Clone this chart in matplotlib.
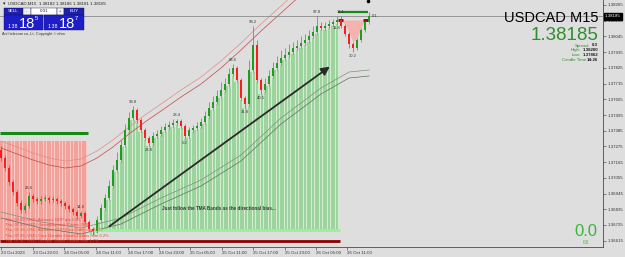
import numpy as np
import matplotlib
matplotlib.use("Agg")
import matplotlib.pyplot as plt
from matplotlib.patches import Rectangle

plt.rcParams['font.family'] = ['Liberation Sans', 'DejaVu Sans']

# ---- USDCAD M15 candles (open of each candle = previous close) ----
first_open = 1.37250
closes = [1.37194, 1.37124, 1.37026, 1.36956, 1.36879, 1.36830, 1.36858, 1.36928, 1.36907, 1.36893,
          1.36907, 1.36914, 1.36900, 1.36907, 1.36893, 1.36879, 1.36858, 1.36837, 1.36816, 1.36788,
          1.36809, 1.36746, 1.36697, 1.36683, 1.36760, 1.36844, 1.36914, 1.36998, 1.37110, 1.37180,
          1.37285, 1.37390, 1.37474, 1.37530, 1.37460, 1.37390, 1.37334, 1.37299, 1.37348, 1.37362,
          1.37390, 1.37411, 1.37425, 1.37439, 1.37453, 1.37418, 1.37348, 1.37390, 1.37404, 1.37418,
          1.37446, 1.37488, 1.37544, 1.37586, 1.37628, 1.37670, 1.37712, 1.37782, 1.37824, 1.37740,
          1.37614, 1.37572, 1.37810, 1.37985, 1.37740, 1.37670, 1.37712, 1.37768, 1.37824, 1.37859,
          1.37894, 1.37915, 1.37936, 1.37964, 1.37978, 1.37999, 1.38020, 1.38048, 1.38076, 1.38118,
          1.38104, 1.38118, 1.38132, 1.38146, 1.38160, 1.38118, 1.38062, 1.37992, 1.37964, 1.38020,
          1.38090, 1.38146, 1.38185]
highs = [1.37278, 1.37215, 1.37145, 1.37040, 1.36970, 1.36900, 1.36879, 1.36956, 1.36942, 1.36921,
         1.36928, 1.36935, 1.36928, 1.36928, 1.36921, 1.36907, 1.36893, 1.36872, 1.36851, 1.36830,
         1.36823, 1.36823, 1.36760, 1.36711, 1.36788, 1.36872, 1.36942, 1.37040, 1.37145, 1.37236,
         1.37320, 1.37432, 1.37516, 1.37558, 1.37544, 1.37474, 1.37404, 1.37348, 1.37376, 1.37390,
         1.37418, 1.37439, 1.37453, 1.37467, 1.37467, 1.37467, 1.37432, 1.37411, 1.37425, 1.37446,
         1.37474, 1.37523, 1.37586, 1.37628, 1.37670, 1.37726, 1.37754, 1.37824, 1.37852, 1.37838,
         1.37754, 1.37628, 1.37880, 1.38118, 1.38020, 1.37754, 1.37754, 1.37810, 1.37866, 1.37908,
         1.37950, 1.37964, 1.37992, 1.38006, 1.38020, 1.38048, 1.38062, 1.38090, 1.38118, 1.38188,
         1.38146, 1.38146, 1.38160, 1.38167, 1.38188, 1.38188, 1.38132, 1.38076, 1.38006, 1.38034,
         1.38104, 1.38160, 1.38216]
lows = [1.37173, 1.37103, 1.37005, 1.36935, 1.36858, 1.36809, 1.36809, 1.36844, 1.36886, 1.36872,
        1.36872, 1.36893, 1.36879, 1.36886, 1.36872, 1.36858, 1.36837, 1.36816, 1.36795, 1.36767,
        1.36774, 1.36732, 1.36683, 1.36655, 1.36669, 1.36746, 1.36830, 1.36900, 1.36984, 1.37096,
        1.37166, 1.37271, 1.37376, 1.37460, 1.37439, 1.37376, 1.37320, 1.37278, 1.37285, 1.37334,
        1.37348, 1.37376, 1.37397, 1.37411, 1.37425, 1.37404, 1.37327, 1.37334, 1.37376, 1.37390,
        1.37404, 1.37432, 1.37474, 1.37530, 1.37572, 1.37614, 1.37656, 1.37698, 1.37768, 1.37726,
        1.37600, 1.37544, 1.37558, 1.37796, 1.37726, 1.37642, 1.37656, 1.37698, 1.37754, 1.37810,
        1.37845, 1.37880, 1.37901, 1.37922, 1.37950, 1.37964, 1.37985, 1.38006, 1.38034, 1.38062,
        1.38090, 1.38090, 1.38104, 1.38118, 1.38132, 1.38104, 1.38048, 1.37964, 1.37936, 1.37950,
        1.38006, 1.38076, 1.38132]

# TMA bands
upper_x = [0, 4, 8, 12, 16, 20, 24, 28, 32, 36, 40, 45, 50, 55, 60, 65, 70, 75]
upper_in = [1.37264, 1.37222, 1.37180, 1.37145, 1.37124, 1.37138, 1.37194, 1.37271, 1.37362,
            1.37446, 1.37523, 1.37621, 1.37712, 1.37824, 1.37950, 1.38083, 1.38209, 1.38335]
upper_out = [1.37313, 1.37271, 1.37229, 1.37194, 1.37173, 1.37187, 1.37243, 1.37320, 1.37411,
             1.37495, 1.37572, 1.37670, 1.37761, 1.37873, 1.37999, 1.38132, 1.38258, 1.38384]
lower_x = [0, 10, 20, 30, 40, 50, 60, 70, 80, 87, 92]
lower_in = [1.36816, 1.36746, 1.36704, 1.36774, 1.36914, 1.37040, 1.37215, 1.37474, 1.37684, 1.37796, 1.37810]
lower_out = [1.36774, 1.36704, 1.36662, 1.36732, 1.36872, 1.36998, 1.37173, 1.37432, 1.37642, 1.37754, 1.37768]

# indicator levels
sell_zone_top = 1.37313
sell_zone_line = 1.37369
hist_base = 1.36676
green_base_line = 1.36690
red_base_line = 1.36613
v_top = 1.38160
v_line = 1.38216

tag_bars = [7, 20, 33, 37, 44, 46, 58, 61, 63, 65, 79, 84, 85, 88]
tag_sides = ['h', 'h', 'h', 'l', 'h', 'l', 'h', 'l', 'h', 'l', 'h', 'l', 'h', 'l']
tag_texts = ['23.6', '14.6', '93.8', '28.8', '28.4', '5.2', '63.6', '31.8', '98.2', '40.5', '97.8', '11.8', '18.1', '30.2']

arrow_from = (26.5, 1.36704)
arrow_to = (82.75, 1.37845)

ytick_vals = [1.36615, 1.36725, 1.36835, 1.36945, 1.37055, 1.37165, 1.37275, 1.37385,
              1.37495, 1.37605, 1.37715, 1.37825, 1.37935, 1.38045, 1.38155, 1.38265]
xtick_pos = [0, 8, 15.75, 23.75, 31.75, 39.5, 47.25, 55.25, 63, 71, 78.75, 86.5]
xtick_labels = ['23 Oct 2023', '23 Oct 22:00', '24 Oct 05:00', '24 Oct 11:00', '24 Oct 17:00',
                '24 Oct 23:00', '25 Oct 05:00', '25 Oct 11:00', '25 Oct 17:00', '25 Oct 23:00',
                '26 Oct 05:00', '26 Oct 11:00']

news = ['Thu, 07:30, USD, Advance GDP q/q 4.3%',
        'Thu, 07:30, USD, Unemployment Claims 209K',
        'Thu, 07:30, USD, Advance GDP Price Index q/q 2.5%',
        'Thu, 07:30, USD, Core Durable Goods Orders m/m 0.2%',
        'Thu, 07:30, USD, Durable Goods Orders m/m 1.7%']

BG = '#dedede'
GREEN = '#1f9d1f'
RED = '#ff1c1c'

fig = plt.figure(figsize=(6.25, 2.57), dpi=100, facecolor=BG)
ax = fig.add_axes([0, 10 / 257, 603 / 625, 247 / 257], facecolor=BG)
ax.set_xlim(-0.25, 150.5)
ax.set_ylim(1.36571, 1.38300)

x = np.arange(len(closes))
o = np.array([first_open] + closes[:-1])
c = np.array(closes)
h = np.array(highs)
l = np.array(lows)

# pink histogram (left) and green histogram under the price
ax.bar(x[:22], sell_zone_top - red_base_line, bottom=red_base_line, width=1.0, color='#f7cbc6', zorder=1)
px = np.arange(-0.3, 21.6, 0.667)
ax.vlines(px, red_base_line, sell_zone_top, color='#f29a93', lw=1.2, zorder=1)
g = np.arange(23, 85)
ax.bar(g, l[g] - hist_base, bottom=hist_base, width=1.0, color='#d3ecd3', zorder=1)
gx = np.arange(22.6, 84.5, 0.667)
gi = np.clip(np.round(gx).astype(int), 23, 84)
ax.vlines(gx, hist_base, l[gi], color='#93cf93', lw=1.2, zorder=1)
v = np.arange(84, 93)
ax.fill_between(v, np.minimum(h[v], v_top), v_top, color='#f5b3ad', lw=0, zorder=1)

# bands
ax.plot(upper_x, upper_out, color='#e08a8a', lw=0.5, zorder=2)
ax.plot(upper_x, upper_in, color='#c04848', lw=0.5, zorder=2)
ax.plot(lower_x, lower_in, color='#7d8f7d', lw=0.5, zorder=2)
ax.plot(lower_x, lower_out, color='#5f705f', lw=0.5, zorder=2)

# level lines
ax.hlines(sell_zone_line, -0.25, 21.75, color='#168a16', lw=2.2, zorder=3)
ax.hlines(green_base_line, 22.75, 84.75, color='#9cf09c', lw=2.2, zorder=3)
ax.hlines(red_base_line, -0.25, 84.75, color='#8b0000', lw=2.0, zorder=3)
ax.hlines(v_line, 84.25, 91.75, color='#168a16', lw=1.6, zorder=3)
ax.hlines(v_top, 84.3, 85.5, color='#8b0000', lw=2.0, zorder=3)
ax.hlines(v_top, 90.5, 91.75, color='#8b0000', lw=2.0, zorder=3)

# candles
col = np.where(c >= o, GREEN, RED)
ax.vlines(x, l, h, colors=col, lw=0.45, zorder=4)
body = np.maximum(np.abs(c - o), 0.00003)
ax.bar(x, body, bottom=np.minimum(o, c), width=0.42, color=col, zorder=4)

# price line + box
ax.axhline(closes[-1], color='#7a7a7a', lw=0.5, zorder=3)
ax.annotate(f'{closes[-1]:.5f}', xy=(1.0, closes[-1]), xycoords=('axes fraction', 'data'),
            xytext=(1.5, 0), textcoords='offset points', ha='left', va='center',
            fontsize=3.2, color='white', annotation_clip=False,
            bbox=dict(boxstyle='square,pad=0.25', fc='black', ec='black'))

# tags
for b, s, t in zip(tag_bars, tag_sides, tag_texts):
    if s == 'h':
        ax.annotate(t, (b, h[b]), xytext=(0, 1.2), textcoords='offset points',
                    ha='center', va='bottom', fontsize=3.0, color='#333333', zorder=6)
    else:
        ax.annotate(t, (b, l[b]), xytext=(0, -1.2), textcoords='offset points',
                    ha='center', va='top', fontsize=3.0, color='#333333', zorder=6)
ax.annotate('0.1', (x[-1], c[-1]), xytext=(2, 0), textcoords='offset points',
            ha='left', va='center', fontsize=3.0, color='#333333', zorder=6)
ax.scatter([x[-1] - 0.3], [1.38290], s=2.5, color='black', zorder=6)

# trend arrow
ax.annotate('', xy=arrow_to, xytext=arrow_from,
            arrowprops=dict(arrowstyle='-|>,head_length=0.5,head_width=0.25', color='#2a2a2a', lw=1.3),
            zorder=5)

# axes styling
for sp in ['top', 'left']:
    ax.spines[sp].set_visible(False)
for sp in ['right', 'bottom']:
    ax.spines[sp].set_color('#4a4a4a')
    ax.spines[sp].set_linewidth(0.6)
ax.yaxis.tick_right()
ax.set_yticks(ytick_vals)
ax.set_yticklabels([f'{vv:.5f}' for vv in ytick_vals])
ax.set_xticks(xtick_pos)
ax.set_xticklabels(xtick_labels, ha='left')
ax.tick_params(axis='both', labelsize=3.2, length=2, width=0.4, pad=1.2, colors='#333333')

# ---- overlay in pixel coordinates for panel / texts ----
ov = fig.add_axes([0, 0, 1, 1], facecolor='none')
ov.set_xlim(0, 625)
ov.set_ylim(257, 0)
ov.axis('off')

ov.text(3, 3.5, '\u25be', fontsize=3.5, family='DejaVu Sans', va='center', color='#222222')
ov.text(8, 3.5, 'USDCAD,M15  1.38182 1.38186 1.38181 1.38185', fontsize=3.2, va='center', color='#222222')

def box(x0, y0, w, hh, fc, txt=None, tc='white', fs=3.2):
    ov.add_patch(Rectangle((x0, y0), w, hh, fc=fc, ec='#10105a', lw=0.3))
    if txt:
        ov.text(x0 + w / 2, y0 + hh / 2, txt, ha='center', va='center', fontsize=fs, color=tc)

box(4, 8, 19, 7, '#1f1fb4', 'SELL')
box(23, 8, 8, 7, '#f2f2f2', '-', tc='#333333')
box(31, 8, 26, 7, 'white', '0.01', tc='#222222')
box(57, 8, 7, 7, '#f2f2f2', '+', tc='#333333')
box(64, 8, 20, 7, '#1f1fb4', 'BUY')
box(4, 15, 39, 15, '#1e1ec8')
box(44, 15, 40, 15, '#1e1ec8')
for bx, last in [(4, '5'), (44, '7')]:
    ov.text(bx + 4, 27.5, '1.38', fontsize=3.8, color='white', va='baseline')
    ov.text(bx + 15, 28.5, '18', fontsize=10.5, color='white', va='baseline')
    ov.text(bx + 31, 20.5, last, fontsize=4.2, color='white', va='baseline')
ov.text(2, 33.5, 'Aiel telecom co.,Lt, Copyright \u00a9 ehm', fontsize=2.8, color='#333333', va='center')

ov.text(598, 18, 'USDCAD M15', fontsize=10.5, ha='right', va='center', color='black')
ov.text(598, 35, '1.38185', fontsize=13.5, ha='right', va='center', color='#2f8f2f')
info = [('Spread:', '0.3', 8), ('High:', '1.38200', 17), ('Low:', '1.37862', 17), ('Candle Time', '14:26', 12)]
for k, (lab, val, off) in enumerate(info):
    yy = 45.5 + 4.8 * k
    ov.text(598, yy, val, fontsize=3.2, ha='right', va='center', color='#1a1a1a', weight='bold')
    ov.text(598 - off, yy, lab, fontsize=3.2, ha='right', va='center', color='#2f8f2f')
ov.text(586, 232, '0.0', fontsize=12, ha='center', va='center', color='#3cb43c')
ov.text(586, 242.5, '0.0', fontsize=3.3, ha='center', va='center', color='#3cb43c')

ov.text(162, 208, 'Just follow the TMA Bands as the directional bias...', fontsize=3.3,
        weight='bold', color='#3a3a3a', va='center')
news_cols = ['#e04a4a', '#e04a4a', '#d8602a', '#e04a4a', '#d8602a']
for k, (t, cc) in enumerate(zip(news, news_cols)):
    ov.text(5, 220 + 5.2 * k, t, fontsize=3.0, color=cc, va='center')

fig.savefig('out.png', dpi=100, facecolor=BG)
